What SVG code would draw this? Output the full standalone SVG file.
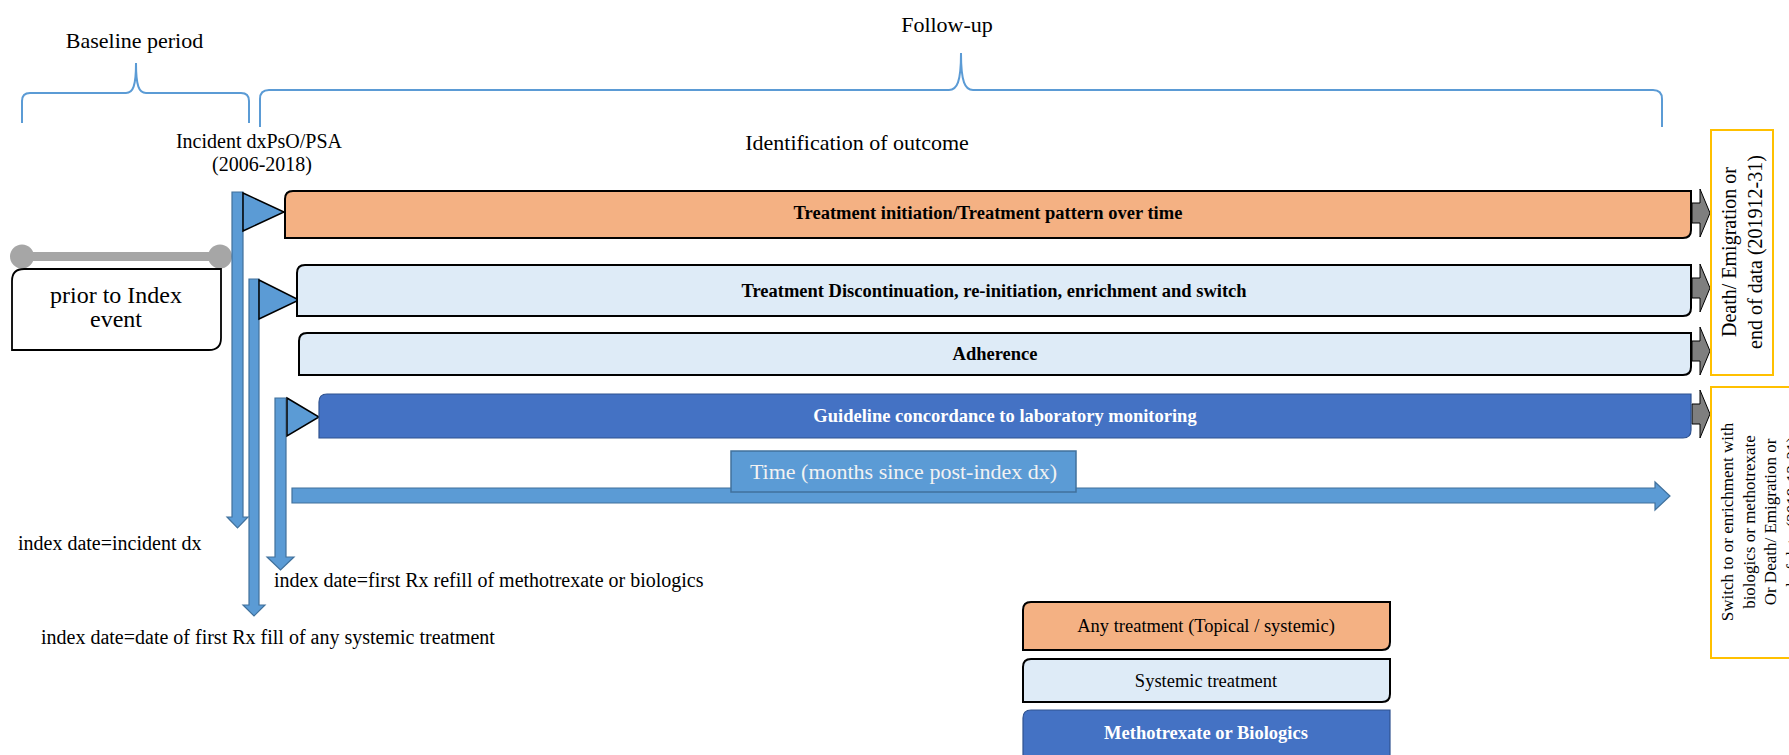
<svg xmlns="http://www.w3.org/2000/svg" width="1789" height="755" viewBox="0 0 1789 755">
<style>
text{font-family:"Liberation Serif","Times New Roman",serif;fill:#000}
.t22{font-size:22px}
.t20{font-size:20px}
.b{font-size:18.5px;font-weight:bold}
.brace{fill:none;stroke:#5B9BD5;stroke-width:2}
.pole{fill:#5B9BD5;stroke:#41719C;stroke-width:1.2}
.flag{fill:#5B9BD5;stroke:#000;stroke-width:1.5}
.gray{fill:#7F7F7F;stroke:#000;stroke-width:1}
.orange{fill:#F4B183;stroke:#000;stroke-width:2}
.light{fill:#DEEBF7;stroke:#000;stroke-width:2}
.blue{fill:#4472C4;stroke:#2F528F;stroke-width:1.2}
.ybox{fill:#fff;stroke:#FFC000;stroke-width:2}
.w{fill:#fff}
</style>

<g id="labels">
<text class="t22" x="134.5" y="48" text-anchor="middle">Baseline period</text>
<text class="t22" x="947" y="32" text-anchor="middle">Follow-up</text>
<text class="t22" x="857" y="150" text-anchor="middle">Identification of outcome</text>
<text class="t20" x="259" y="148" text-anchor="middle" font-size="20.5">Incident dxPsO/PSA</text>
<text class="t20" x="262" y="171" text-anchor="middle">(2006-2018)</text>
</g>

<g id="braces">
<path class="brace" d="M22,123 V101 Q22,93 30,93 H126 C133,93 136,86 136,63 C136,86 139,93 146,93 H241 Q249,93 249,101 V123"/>
<path class="brace" d="M260,127 V99 Q260,90 269,90 H949 C957,90 961,82 961,53 C961,82 965,90 973,90 H1653 Q1662,90 1662,99 V127"/>
</g>

<g id="baseline-bar">
<rect x="22" y="252" width="198" height="9" fill="#A6A6A6"/>
<circle cx="22" cy="256.5" r="12" fill="#A6A6A6"/>
<circle cx="220" cy="256.5" r="12" fill="#A6A6A6"/>
</g>

<g id="prior-box">
<path d="M24,269 H221 V338 Q221,350 209,350 H12 V281 Q12,269 24,269 Z" fill="#fff" stroke="#000" stroke-width="1.8"/>
<text x="116" y="303" text-anchor="middle" font-size="24">prior to Index</text>
<text x="116" y="327" text-anchor="middle" font-size="24">event</text>
</g>

<g id="connectors">
<path class="pole" d="M232,192 H243 V517 H248 L237.5,528 L227,517 H232 Z"/>
<path class="pole" d="M249,279 H259 V605 H265 L254,616 L243,605 H249 Z"/>
<path class="pole" d="M275,398 H286 V557 H294 L280.5,570 L267,557 H275 Z"/>
<polygon class="flag" points="243,193 284,212 243,231"/>
<polygon class="flag" points="259,280 299,300 259,319"/>
<polygon class="flag" points="287,398 319,417 287,436"/>
<path class="gray" d="M1692,203 H1700 V189 L1710,213 L1700,237 V223 H1692 Z"/>
<path class="gray" d="M1692,278 H1700 V264 L1710,288 L1700,312 V298 H1692 Z"/>
<path class="gray" d="M1692,341 H1700 V327 L1710,351 L1700,375 V361 H1692 Z"/>
<path class="gray" d="M1692,404 H1700 V390 L1710,414 L1700,438 V424 H1692 Z"/>
<path d="M292,488 H1655 V482 L1670,496 L1655,510 V503 H292 Z" fill="#5B9BD5" stroke="#41719C" stroke-width="1.2"/>
</g>

<g id="bar-treatment-initiation">
<path class="orange" d="M293,191 H1691 V230 Q1691,238 1683,238 H285 V199 Q285,191 293,191 Z"/>
<text class="b" x="988" y="219" text-anchor="middle">Treatment initiation/Treatment pattern over time</text>
</g>
<g id="bar-discontinuation">
<path class="light" d="M305,265 H1691 V308 Q1691,316 1683,316 H297 V273 Q297,265 305,265 Z"/>
<text class="b" x="994" y="297" text-anchor="middle">Treatment Discontinuation, re-initiation, enrichment and switch</text>
</g>
<g id="bar-adherence">
<path class="light" d="M307,333 H1691 V367 Q1691,375 1683,375 H299 V341 Q299,333 307,333 Z"/>
<text class="b" x="995" y="360" text-anchor="middle">Adherence</text>
</g>
<g id="bar-guideline">
<path class="blue" d="M327,394 H1691 V430 Q1691,438 1683,438 H319 V402 Q319,394 327,394 Z"/>
<text class="b w" x="1005" y="422" text-anchor="middle">Guideline concordance to laboratory monitoring</text>
</g>

<g id="time-label">
<rect x="731" y="451" width="345" height="41" fill="#5B9BD5" stroke="#41719C" stroke-width="1.5"/>
<text class="t22" x="903.5" y="479" text-anchor="middle" fill="#F2F2F2" style="fill:#F2F2F2">Time (months since post-index dx)</text>
</g>

<g id="index-labels">
<text class="t20" x="18" y="550">index date=incident dx</text>
<text class="t20" x="274" y="587">index date=first Rx refill of methotrexate or biologics</text>
<text class="t20" x="41" y="644">index date=date of first Rx fill of any systemic treatment</text>
</g>

<g id="end-box">
<rect class="ybox" x="1711" y="130" width="62" height="245"/>
<text class="t20" transform="translate(1736,252) rotate(-90)" text-anchor="middle">Death/ Emigration or</text>
<text class="t20" transform="translate(1762,252) rotate(-90)" text-anchor="middle">end of data (201912-31)</text>
</g>

<g id="switch-box">
<rect class="ybox" x="1711" y="387" width="100" height="271"/>
<g font-size="17">
<text transform="translate(1733,522) rotate(-90)" text-anchor="middle">Switch to or enrichment with</text>
<text transform="translate(1754.5,522) rotate(-90)" text-anchor="middle">biologics or methotrexate</text>
<text transform="translate(1776,522) rotate(-90)" text-anchor="middle">Or Death/ Emigration or</text>
<text transform="translate(1797.5,522) rotate(-90)" text-anchor="middle">end of data (2019-12-31)</text>
</g>
</g>

<g id="legend-any">
<path class="orange" d="M1031,602 H1390 V642 Q1390,650 1382,650 H1023 V610 Q1023,602 1031,602 Z"/>
<text x="1206" y="632" text-anchor="middle" font-size="18.5">Any treatment (Topical / systemic)</text>
</g>
<g id="legend-systemic">
<path class="light" d="M1031,659 H1390 V694 Q1390,702 1382,702 H1023 V667 Q1023,659 1031,659 Z"/>
<text x="1206" y="687" text-anchor="middle" font-size="18.5">Systemic treatment</text>
</g>
<g id="legend-mtx">
<path class="blue" d="M1031,710 H1390 V770 H1023 V718 Q1023,710 1031,710 Z"/>
<text class="b w" x="1206" y="739" text-anchor="middle">Methotrexate or Biologics</text>
</g>
</svg>
